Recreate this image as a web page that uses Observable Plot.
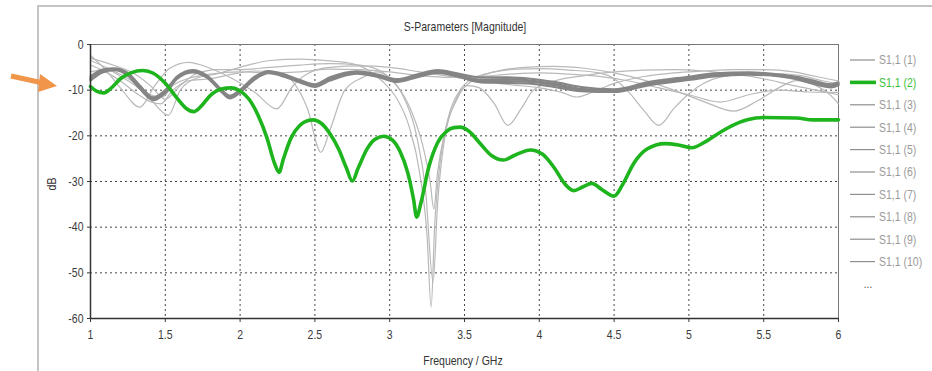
<!DOCTYPE html>
<html><head><meta charset="utf-8">
<script src="https://cdn.jsdelivr.net/npm/d3@7"></script>
<script src="https://cdn.jsdelivr.net/npm/@observablehq/plot@0.6"></script>
<style>
html,body{margin:0;padding:0;background:#fff;}
#chart{position:relative;width:932px;height:371px;overflow:hidden;}
</style></head><body><div id="chart"></div>
<script>
// ---------- data ----------
const xTicks = [1, 1.5, 2, 2.5, 3, 3.5, 4, 4.5, 5, 5.5, 6];
const yTicks = [0, -10, -20, -30, -40, -50, -60];
const legendNames = ["S1,1 (1)","S1,1 (2)","S1,1 (3)","S1,1 (4)","S1,1 (5)","S1,1 (6)","S1,1 (7)","S1,1 (8)","S1,1 (9)","S1,1 (10)"];

// S1,1 (2) – highlighted green curve
const s2Freq = [1.0,1.04,1.09,1.14,1.2,1.27,1.35,1.42,1.5,1.58,1.64,1.69,1.74,1.8,1.87,1.94,2.0,2.06,2.12,2.18,2.23,2.26,2.29,2.34,2.4,2.45,2.49,2.54,2.6,2.66,2.71,2.75,2.79,2.85,2.9,2.96,3.02,3.07,3.12,3.16,3.18,3.21,3.26,3.32,3.38,3.43,3.47,3.53,3.6,3.68,3.76,3.84,3.94,4.02,4.1,4.17,4.23,4.29,4.35,4.42,4.5,4.56,4.63,4.72,4.84,4.93,5.02,5.1,5.21,5.3,5.39,5.5,5.72,5.83,6.0];
const s2Db = [-9.2,-10.2,-10.6,-9.5,-7.5,-6.2,-5.7,-6.3,-8.5,-11.8,-14.0,-14.7,-13.5,-11.2,-9.8,-9.5,-10.2,-12.0,-15.5,-20.5,-26.0,-28.0,-25.0,-20.5,-17.7,-16.7,-16.5,-17.2,-19.5,-23.0,-27.0,-29.9,-27.0,-22.8,-20.8,-20.1,-21.0,-23.5,-28.0,-34.0,-37.8,-34.5,-27.0,-21.5,-19.0,-18.2,-18.1,-19.0,-21.5,-24.3,-25.3,-24.2,-23.1,-24.0,-27.0,-30.5,-32.0,-31.2,-30.4,-31.8,-33.2,-30.5,-26.1,-22.9,-21.7,-22.0,-22.6,-21.5,-19.2,-17.6,-16.5,-16.0,-16.1,-16.5,-16.5];

// dark gray cluster (S1,1 (4), (6), (8), (10))
const darkFreq = [1.0,1.08,1.16,1.25,1.33,1.42,1.5,1.58,1.68,1.78,1.87,1.93,2.0,2.1,2.19,2.3,2.4,2.5,2.6,2.78,2.92,3.05,3.18,3.32,3.45,3.61,3.78,3.94,4.1,4.28,4.5,4.72,5.01,5.17,5.4,5.61,5.72,5.83,5.95,6.0];
const s4Db  = [-7.4,-5.8,-5.4,-6.5,-9.3,-11.9,-10.3,-7.2,-5.8,-7.0,-10.0,-11.5,-10.2,-7.3,-6.0,-6.8,-8.0,-9.0,-7.5,-6.1,-6.8,-7.9,-6.8,-5.8,-6.6,-7.7,-7.6,-7.9,-8.6,-9.7,-10.1,-8.6,-7.3,-6.6,-6.3,-6.8,-7.3,-8.2,-9.0,-8.6];
const s6Db  = [-7.9,-6.1,-5.6,-6.8,-9.7,-12.2,-10.6,-7.5,-6.1,-7.3,-10.2,-11.8,-10.5,-7.6,-6.3,-7.1,-8.3,-9.3,-7.9,-6.4,-7.1,-8.2,-7.2,-6.2,-7.0,-8.3,-8.4,-8.6,-9.3,-10.2,-10.4,-9.0,-7.7,-7.0,-6.6,-7.0,-7.6,-8.6,-9.4,-8.9];
const s8Db  = [-7.0,-5.5,-5.2,-6.2,-9.0,-11.6,-10.0,-7.0,-5.6,-6.8,-9.7,-11.2,-9.9,-7.0,-5.8,-6.6,-7.8,-8.7,-7.2,-5.9,-6.6,-7.6,-6.6,-5.6,-6.3,-7.2,-7.2,-7.5,-8.2,-9.3,-9.8,-8.3,-7.0,-6.3,-6.1,-6.6,-7.1,-7.9,-8.7,-8.3];
const s10Db = [-7.6,-5.9,-5.5,-6.6,-9.5,-12.0,-10.4,-7.3,-5.9,-7.1,-10.1,-11.6,-10.3,-7.4,-6.1,-6.9,-8.1,-9.1,-7.6,-6.2,-6.9,-8.0,-7.0,-6.0,-6.8,-8.0,-8.0,-8.2,-8.9,-9.9,-10.2,-8.8,-7.5,-6.8,-6.4,-6.9,-7.4,-8.4,-9.2,-8.7];

// light gray curves
const s1Freq = [1.0,1.1,1.2,1.33,1.43,1.53,1.655,1.8,1.95,2.1,2.245,2.35,2.45,2.6,2.8,3.0,3.2,3.4,3.6,3.8,4.0,4.15,4.25,4.35,4.5,4.7,4.9,5.1,5.3,5.5,5.7,5.85,6.0];
const s1Db   = [-2.4,-5.5,-9.5,-13.7,-9.0,-5.2,-3.9,-5.2,-7.5,-10.5,-14.1,-9.2,-6.4,-5.0,-4.7,-5.0,-6.0,-7.0,-8.0,-8.8,-9.5,-10.5,-11.5,-10.5,-8.5,-7.0,-6.2,-5.8,-5.5,-5.5,-6.0,-7.0,-8.0];
const s3Freq = [1.0,1.1,1.2,1.3,1.4,1.52,1.6,1.7,1.85,2.0,2.2,2.4,2.6,2.75,2.85,2.95,3.05,3.13,3.2,3.25,3.277,3.3,3.34,3.4,3.47,3.55,3.7,3.85,4.0,4.2,4.4,4.5,4.6,4.7,4.8,4.9,5.0,5.1,5.2,5.4,5.6,5.75,5.9,6.0];
const s3Db   = [-3.5,-5.0,-7.0,-9.0,-12.0,-15.5,-10.0,-7.5,-6.4,-5.0,-3.5,-3.2,-3.6,-4.2,-5.5,-8.0,-12.0,-18.0,-28.0,-42.0,-57.5,-40.0,-25.0,-15.0,-10.0,-7.5,-6.0,-5.4,-5.3,-5.6,-6.2,-7.5,-10.5,-14.5,-17.7,-14.0,-10.8,-8.5,-7.2,-6.4,-6.4,-6.8,-8.0,-8.6];
const s5Freq = [1.0,1.1,1.2,1.3,1.4,1.47,1.55,1.65,1.8,1.95,2.1,2.25,2.35,2.45,2.54,2.6,2.7,2.82,2.92,3.0,3.1,3.18,3.24,3.29,3.32,3.37,3.45,3.52,3.6,3.7,3.79,3.88,3.96,4.1,4.3,4.5,4.7,4.9,5.1,5.3,5.5,5.7,5.85,6.0];
const s5Db   = [-4.5,-6.0,-8.0,-10.5,-12.5,-13.0,-10.0,-8.0,-7.5,-6.5,-5.8,-6.0,-8.0,-14.0,-23.6,-18.8,-10.0,-7.2,-6.0,-7.5,-12.0,-20.0,-32.0,-52.0,-35.0,-20.0,-12.0,-9.0,-9.5,-13.0,-17.7,-14.0,-10.0,-8.0,-6.8,-6.0,-5.6,-5.5,-5.8,-6.5,-7.5,-9.0,-10.0,-11.0];
const s7Freq = [1.0,1.15,1.3,1.4,1.5,1.6,1.7,1.85,2.0,2.2,2.4,2.6,2.8,2.95,3.05,3.15,3.22,3.27,3.295,3.32,3.38,3.45,3.55,3.7,3.9,4.1,4.3,4.5,4.7,4.9,5.1,5.3,5.45,5.6,5.72,5.85,5.95,6.0];
const s7Db   = [-3.0,-4.5,-6.5,-9.0,-12.0,-9.0,-6.5,-5.5,-5.5,-5.0,-4.5,-4.2,-4.5,-6.0,-9.0,-15.0,-22.0,-30.0,-36.0,-28.0,-18.0,-11.5,-8.0,-6.0,-5.0,-4.8,-5.2,-6.2,-7.8,-10.0,-12.5,-14.6,-12.5,-9.5,-7.9,-9.0,-11.2,-13.0];
const s9Freq = [1.0,1.1,1.2,1.3,1.4,1.48,1.55,1.65,1.8,2.0,2.2,2.4,2.6,2.8,3.0,3.2,3.4,3.6,3.8,4.0,4.2,4.4,4.6,4.8,5.0,5.21,5.4,5.6,5.8,6.0];
const s9Db   = [-6.0,-5.5,-6.5,-8.5,-11.0,-11.5,-9.0,-7.5,-6.5,-6.0,-6.2,-6.0,-5.4,-5.5,-6.0,-6.8,-7.2,-7.0,-6.5,-6.2,-6.5,-7.0,-8.0,-9.5,-11.0,-12.6,-11.0,-10.0,-10.4,-10.5];

// ---------- build rows ----------
function rowsOf(name, fs, ds) { return fs.map((f, i) => ({series: name, f, db: ds[i]})); }
const lightRows = [
  ...rowsOf("S1,1 (1)", s1Freq, s1Db),
  ...rowsOf("S1,1 (3)", s3Freq, s3Db),
  ...rowsOf("S1,1 (5)", s5Freq, s5Db),
  ...rowsOf("S1,1 (7)", s7Freq, s7Db),
  ...rowsOf("S1,1 (9)", s9Freq, s9Db)
];
const darkRows = [
  ...rowsOf("S1,1 (4)", darkFreq, s4Db),
  ...rowsOf("S1,1 (6)", darkFreq, s6Db),
  ...rowsOf("S1,1 (8)", darkFreq, s8Db),
  ...rowsOf("S1,1 (10)", darkFreq, s10Db)
];
const greenRows = rowsOf("S1,1 (2)", s2Freq, s2Db);

const FONT = '"Liberation Sans",Arial,sans-serif';
const GREEN = "#1eb41e";

const plot = Plot.plot({
  width: 932, height: 371,
  marginLeft: 90, marginRight: 94, marginTop: 44, marginBottom: 53,
  style: {fontFamily: FONT, fontSize: "12.5px", color: "#3a3a3a", background: "#fff", overflow: "visible"},
  x: {type: "linear", domain: [1, 6], label: null},
  y: {type: "linear", domain: [-60, 0], label: null},
  marks: [
    Plot.gridX(xTicks.slice(1, -1), {stroke: "#333", strokeOpacity: 0.9, strokeDasharray: "2,3"}),
    Plot.gridY(yTicks.slice(1, -1), {stroke: "#333", strokeOpacity: 0.9, strokeDasharray: "2,3"}),
    Plot.frame({stroke: "#777", strokeWidth: 1}),
    Plot.line(lightRows, {x: "f", y: "db", z: "series", stroke: "#b9b9b9", strokeWidth: 1.2, curve: "monotone-x"}),
    Plot.line(darkRows, {x: "f", y: "db", z: "series", stroke: "#858585", strokeWidth: 2.2, curve: "monotone-x"}),
    Plot.line(greenRows, {x: "f", y: "db", z: "series", stroke: GREEN, strokeWidth: 3.6, curve: "monotone-x"}),
    Plot.axisX({ticks: xTicks, tickFormat: d => String(d), tickSize: 4, tickPadding: 8, label: null}),
    Plot.axisY({ticks: yTicks, tickFormat: d => String(d), tickSize: 3, tickPadding: 4, label: null}),
    Plot.ruleX([1], {stroke: "#333", strokeWidth: 1.5}),
    Plot.ruleY([-60], {stroke: "#333", strokeWidth: 1.5})
  ]
});
document.getElementById("chart").appendChild(plot);

// ---------- decorations ----------
const svg = d3.select(plot);
// outer panel border (left & top)
svg.append("path").attr("d", "M38,371 L38,6 L932,6").attr("fill", "none").attr("stroke", "#c4c4c4").attr("stroke-width", 2);
// title
svg.append("text").attr("transform", "translate(465,31)").attr("text-anchor", "middle")
  .style("font-family", FONT).style("font-size", "12.5px").attr("fill", "#333").text("S-Parameters [Magnitude]");
// axis labels
svg.append("text").attr("transform", "translate(56,184) rotate(-90)").attr("text-anchor", "middle")
  .style("font-family", FONT).style("font-size", "12.5px").attr("fill", "#333").text("dB");
svg.append("text").attr("transform", "translate(463,365)").attr("text-anchor", "middle")
  .style("font-family", FONT).style("font-size", "12.5px").attr("fill", "#333").text("Frequency / GHz");
// legend
const lg = svg.append("g");
legendNames.forEach((name, i) => {
  const y = 60 + i * 22.4;
  const hl = name === "S1,1 (2)";
  lg.append("line").attr("x1", 850).attr("x2", hl ? 876 : 875).attr("y1", y).attr("y2", y)
    .attr("stroke", hl ? GREEN : "#8f8f8f").attr("stroke-width", hl ? 3.6 : 1.2);
  lg.append("text").attr("transform", `translate(879,${y})`).attr("dy", "0.35em").attr("text-anchor", "start")
    .style("font-family", FONT).style("font-size", "12.5px").attr("fill", hl ? "#3cbf3c" : "#9a9a9a").text(name);
});
lg.append("text").attr("transform", "translate(868,288)").attr("text-anchor", "middle")
  .style("font-family", FONT).style("font-size", "12px").attr("fill", "#555").text("...");
// orange arrow
const ar = svg.append("g");
ar.append("line").attr("x1", 11).attr("y1", 76).attr("x2", 43).attr("y2", 83)
  .attr("stroke", "#f0954a").attr("stroke-width", 5).attr("stroke-linecap", "butt");
ar.append("path").attr("d", "M40,74 L57,86 L38,92 Z").attr("fill", "#f0954a");

// narrow the typeface horizontally (reference uses a condensed UI font);
// only a numeric, non-zero x needs moving into the transform, y is untouched by an x-only scale
svg.selectAll("text").each(function () {
  const t = this.getAttribute("transform");
  const x = this.getAttribute("x");
  let tr = t ? t + " " : "";
  if (x != null && /^-?[\d.]+$/.test(x.trim()) && +x !== 0) {
    tr += `translate(${+x},0) `;
    this.removeAttribute("x");
  }
  this.setAttribute("transform", tr + "scale(0.84,1)");
});
</script>
</body></html>
